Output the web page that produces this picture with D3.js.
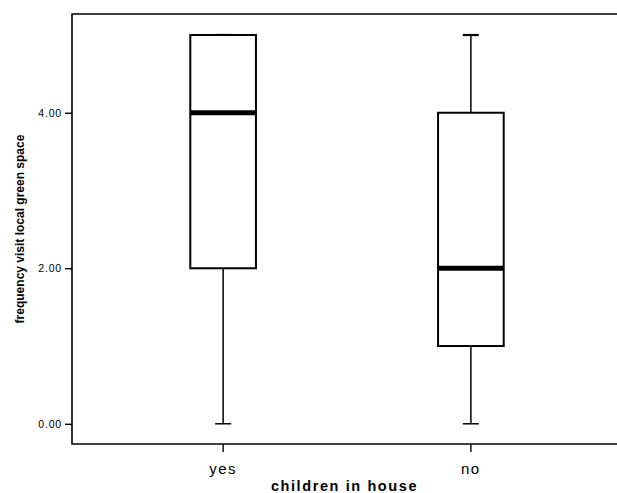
<!DOCTYPE html>
<html lang='en'>
<head>
  <meta charset='utf-8'>
  <script src="https://d3js.org/d3.v7.min.js"></script>
  <title>Boxplot: children in house</title>
  <style>
    body { margin: 0; background: #fff; overflow: hidden; }
    svg { display: block; font-family: "Liberation Sans", Arial, sans-serif; }
  </style>
</head>
<body>
  <div id="my_dataviz"></div>
  <script>
    // data
    const groups = ["yes", "no"];
    const mins    = [0, 0];
    const q1s     = [2, 1];
    const medians = [4, 2];
    const q3s     = [5, 4];
    const maxs    = [5, 5];
    const yTicks  = [0, 2, 4];

    const boxes = groups.map((g, i) => ({
      group: g, min: mins[i], q1: q1s[i], median: medians[i], q3: q3s[i], max: maxs[i]
    }));

    const width = 617, height = 493;
    const margin = {top: 14, right: 0, bottom: 49, left: 72};
    const innerW = width - margin.left - margin.right,
          innerH = height - margin.top - margin.bottom;

    const svg = d3.select("#my_dataviz")
      .append("svg")
      .attr("width", width)
      .attr("height", height);

    const g = svg.append("g")
      .attr("transform", `translate(${margin.left}, ${margin.top})`);

    // scales (the plot area runs a little past the right edge of the page)
    const x = d3.scaleBand()
      .domain(groups)
      .range([0, innerW + 5])
      .paddingInner(0)
      .paddingOuter(0.11);

    const y = d3.scaleLinear()
      .domain([-0.26, 5.27])
      .range([innerH, 0]);

    // frame: top, left and bottom only, the right side is cut off
    g.append("path")
      .attr("d", `M${innerW},0H0V${innerH}H${innerW}`)
      .attr("fill", "none")
      .attr("stroke", "#000")
      .attr("stroke-width", 1.6);

    // Y axis
    const yAxis = g.append("g")
      .call(d3.axisLeft(y).tickValues(yTicks).tickFormat(d3.format(".2f")).tickSize(7).tickSizeOuter(0));
    yAxis.select(".domain").remove();
    yAxis.selectAll(".tick line").attr("stroke-width", 1.4);
    yAxis.selectAll(".tick text")
      .attr("x", -10)
      .style("font-size", "10.5px")
      .style("letter-spacing", "0.8px")
      .attr("fill", "#000");

    // X axis
    const xAxis = g.append("g")
      .attr("transform", `translate(0, ${innerH})`)
      .call(d3.axisBottom(x).tickSize(8).tickSizeOuter(0));
    xAxis.select(".domain").remove();
    xAxis.selectAll(".tick line").attr("stroke-width", 1.4);
    xAxis.selectAll(".tick text")
      .attr("y", 19)
      .style("font-size", "15px")
      .style("letter-spacing", "1.5px")
      .attr("fill", "#000");

    // boxes
    const boxW = x.bandwidth() * 0.265;
    const capW = 16;
    const bx = g.append("g").selectAll("g")
      .data(boxes)
      .join("g")
      .attr("transform", d => `translate(${x(d.group) + x.bandwidth() / 2}, 0)`);

    // whiskers
    bx.append("line")
      .attr("x1", 0).attr("x2", 0)
      .attr("y1", d => y(d.min)).attr("y2", d => y(d.q1))
      .attr("stroke", "#000").attr("stroke-width", 1.5);
    bx.append("line")
      .attr("x1", 0).attr("x2", 0)
      .attr("y1", d => y(d.q3)).attr("y2", d => y(d.max))
      .attr("stroke", "#000").attr("stroke-width", 1.5);
    bx.append("line")
      .attr("x1", -capW / 2).attr("x2", capW / 2)
      .attr("y1", d => y(d.min)).attr("y2", d => y(d.min))
      .attr("stroke", "#000").attr("stroke-width", 1.5);
    bx.append("line")
      .attr("x1", -capW / 2).attr("x2", capW / 2)
      .attr("y1", d => y(d.max)).attr("y2", d => y(d.max))
      .attr("stroke", "#000").attr("stroke-width", 2.2);

    // box
    bx.append("rect")
      .attr("x", -boxW / 2)
      .attr("y", d => y(d.q3))
      .attr("width", boxW)
      .attr("height", d => y(d.q1) - y(d.q3))
      .attr("fill", "#fff")
      .attr("stroke", "#000")
      .attr("stroke-width", 2);

    // median
    bx.append("line")
      .attr("x1", -boxW / 2).attr("x2", boxW / 2)
      .attr("y1", d => y(d.median)).attr("y2", d => y(d.median))
      .attr("stroke", "#000").attr("stroke-width", 5);

    // axis titles
    svg.append("text")
      .attr("x", margin.left + (width - margin.left) / 2)
      .attr("y", 491)
      .attr("text-anchor", "middle")
      .style("font-size", "14.5px")
      .style("font-weight", "bold")
      .style("letter-spacing", "1.6px")
      .text("children in house");

    svg.append("text")
      .attr("transform", `translate(24, 229) rotate(-90)`)
      .attr("text-anchor", "middle")
      .style("font-size", "12px")
      .style("font-weight", "bold")
      .text("frequency visit local green space");
  </script>
</body>
</html>
